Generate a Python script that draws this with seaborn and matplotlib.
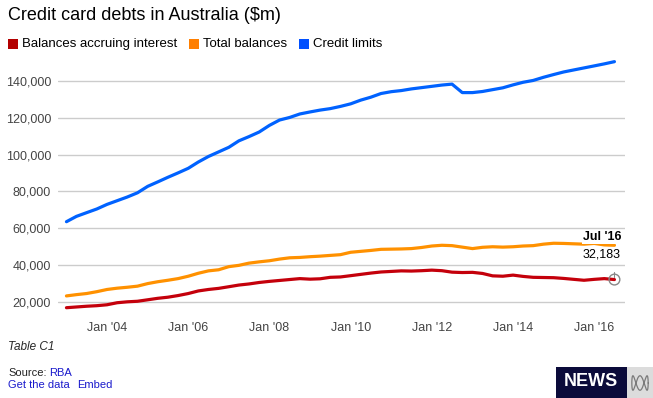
import numpy as np
import pandas as pd
import seaborn as sns
import matplotlib.pyplot as plt
from matplotlib.patches import Rectangle

# quarterly readings, Jan 2003 - Jul 2016 ($m)
dates = pd.date_range("2003-01-01", "2016-07-01", freq="QS")

credit_limits = [63600, 66500, 68500, 70500, 73000, 75000, 77000, 79300,
                 82800, 85200, 87700, 90100, 92600, 96000, 99000, 101500,
                 104000, 107500, 109800, 112300, 115900, 118800, 120200, 122100,
                 123200, 124200, 125000, 126200, 127600, 129600, 131200, 133200,
                 134200, 134800, 135700, 136400, 137100, 137800, 138300, 133700,
                 133700, 134300, 135300, 136300, 137900, 139300, 140300, 142000,
                 143500, 144900, 146000, 147100, 148200, 149300, 150500]

total_balances = [23300, 24000, 24600, 25600, 26800, 27500, 28000, 28600,
                  30000, 31000, 31800, 32700, 34000, 35600, 36900, 37500,
                  39200, 39900, 41100, 41800, 42400, 43300, 44000, 44200,
                  44600, 44900, 45300, 45700, 47000, 47500, 48000, 48600,
                  48700, 48800, 49000, 49600, 50400, 50800, 50600, 49800,
                  49000, 49700, 50000, 49800, 50000, 50400, 50600, 51400,
                  51900, 51800, 51600, 51400, 51800, 51000, 50800]

accruing_interest = [16900, 17300, 17700, 18000, 18500, 19600, 20100, 20400,
                     21200, 22000, 22600, 23500, 24600, 26000, 26800, 27400,
                     28300, 29200, 29800, 30600, 31200, 31700, 32200, 32700,
                     32400, 32600, 33400, 33600, 34300, 35000, 35700, 36300,
                     36600, 36900, 36800, 37000, 37300, 37000, 36200, 36000,
                     36100, 35500, 34200, 34000, 34600, 33900, 33400, 33300,
                     33200, 32800, 32300, 31800, 32300, 32700, 32183]

series_names = ["Balances accruing interest", "Total balances", "Credit limits"]
colors = ["#c4000b", "#ff9100", "#0062ff"]
legend_colors = ["#b30000", "#ff7f00", "#0050ff"]
y_ticks = [20000, 40000, 60000, 80000, 100000, 120000, 140000]
x_tick_years = [2004, 2006, 2008, 2010, 2012, 2014, 2016]

df = pd.DataFrame({
    "date": list(dates) * 3,
    "value": accruing_interest + total_balances + credit_limits,
    "series": np.repeat(series_names, len(dates)),
})

sns.set_style("white")
plt.rcParams["font.family"] = ["Liberation Sans", "DejaVu Sans"]

fig = plt.figure(figsize=(6.53, 3.98), dpi=100)
ax = fig.add_axes([58 / 653, 1 - 316 / 398, 567 / 653, 256 / 398])

sns.lineplot(data=df, x="date", y="value", hue="series", hue_order=series_names,
             palette=colors, linewidth=2.3, legend=False, ax=ax, zorder=3)

ax.set_ylim(12400, 151400)
ax.set_xlim(pd.Timestamp("2002-10-17"), pd.Timestamp("2016-10-04"))
ax.set_yticks(y_ticks)
ax.set_yticklabels([f"{v:,}" for v in y_ticks])
ax.set_xticks([pd.Timestamp(f"{y}-01-01") for y in x_tick_years])
ax.set_xticklabels([f"Jan '{str(y)[2:]}" for y in x_tick_years])
ax.tick_params(length=0, labelsize=9, colors="#444444", pad=4)
ax.tick_params(axis="y", pad=5)
ax.set_xlabel("")
ax.set_ylabel("")
ax.grid(axis="y", color="#cccccc", linewidth=1)
ax.grid(axis="x", visible=False)
sns.despine(ax=ax, left=True, bottom=True)

# last point annotation
last_x = dates[-1]
last_y = accruing_interest[-1]
ax.scatter([last_x], [last_y], s=60, facecolors="none", edgecolors="#888888",
           linewidths=1, zorder=5)
ax.plot([last_x, last_x], [last_y + 1300, last_y + 4200], color="#888888", lw=0.8, zorder=5)
ax.annotate("32,183", xy=(last_x, last_y), xytext=(-9, 14), textcoords="offset points",
            ha="center", va="bottom", fontsize=9, color="#000000", zorder=6,
            bbox=dict(facecolor="white", edgecolor="none", pad=0.5))
ax.annotate("Jul '16", xy=(last_x, last_y), xytext=(-9, 26), textcoords="offset points",
            ha="center", va="bottom", fontsize=9, fontweight="bold", color="#000000",
            zorder=6, bbox=dict(facecolor="white", edgecolor="none", pad=0.5))

# title and legend
fig.text(8 / 653, 1 - 16 / 398, "Credit card debts in Australia ($m)", fontsize=13,
         va="center", ha="left", color="#000000")
fig.canvas.draw()
renderer = fig.canvas.get_renderer()


def text_row(x, y, parts, **kw):
    # draw texts one after another, returns end x in pixels
    for s, c, gap in parts:
        t = fig.text(x / 653, 1 - y / 398, s, color=c, va="center", ha="left", **kw)
        x = x + t.get_window_extent(renderer).width + gap
    return x


lx = 8
for name, c in zip(series_names, legend_colors):
    fig.patches.append(Rectangle((lx / 653, 1 - 49 / 398), 10 / 653, 10 / 398,
                                 transform=fig.transFigure, facecolor=c, edgecolor="none"))
    lx = text_row(lx + 14, 44, [(name, "#000000", 12)], fontsize=9.5)

# footer
fig.text(8 / 653, 1 - 347 / 398, "Table C1", fontsize=8.5, style="italic", va="center")
text_row(8, 373, [("Source:", "#222222", 3), ("RBA", "#1a1acc", 0)], fontsize=8)
text_row(8, 385, [("Get the data", "#1a1acc", 7), ("Embed", "#1a1acc", 0)], fontsize=8)

# NEWS logo
fig.patches.append(Rectangle((556 / 653, 0), 71 / 653, 31 / 398, zorder=0,
                             transform=fig.transFigure, facecolor="#0b0b3a", edgecolor="none"))
fig.patches.append(Rectangle((627 / 653, 0), 26 / 653, 31 / 398, zorder=0,
                             transform=fig.transFigure, facecolor="#dcdcdc", edgecolor="none"))
fig.text(591 / 653, 1 - 382 / 398, "NEWS", fontsize=13, fontweight="bold", color="white",
         ha="center", va="center")
lax = fig.add_axes([631 / 653, 1 - 391 / 398, 18 / 653, 16 / 398], zorder=3)
s = np.linspace(0, 2 * np.pi, 200)
lax.plot(np.cos(s), np.sin(3 * s), color="#7a7a7a", lw=0.9)
lax.axis("off")

fig.savefig("out.png", dpi=100)
